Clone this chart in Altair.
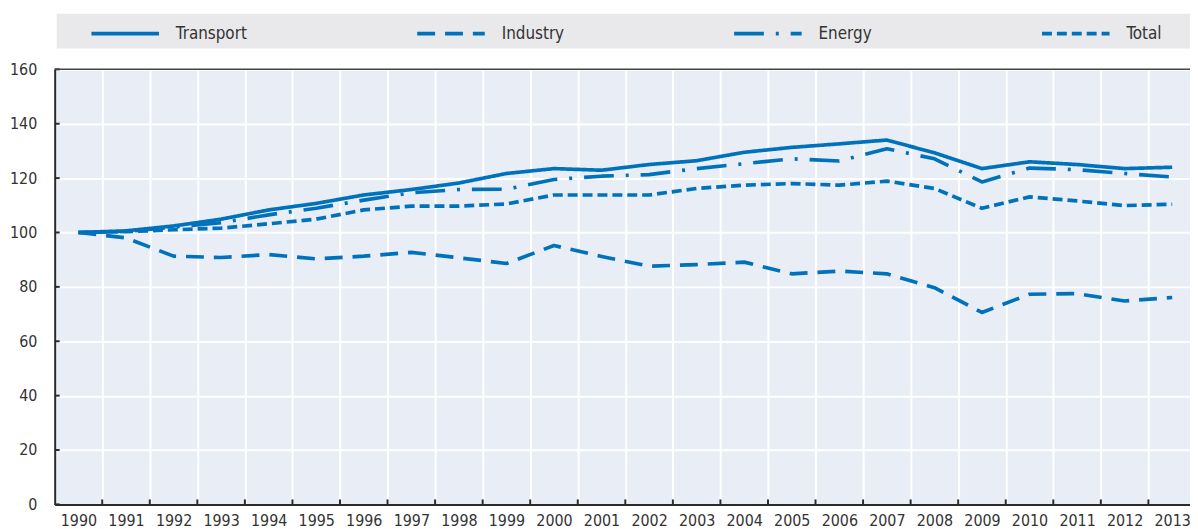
import altair as alt
import pandas as pd

years = [str(y) for y in range(1990, 2014)]
series_names = ["Transport", "Industry", "Energy", "Total"]
transport = [100, 100.6, 102.4, 104.9, 108.3, 110.7, 113.8, 115.8, 118.2, 121.7, 123.5, 122.9,
             125.0, 126.4, 129.5, 131.3, 132.6, 134.0, 129.3, 123.5, 126.0, 125.0, 123.5, 124.0]
industry = [100, 98.0, 91.3, 90.8, 91.9, 90.3, 91.3, 92.7, 90.7, 88.6, 95.2, 91.2,
            87.6, 88.2, 89.1, 84.8, 85.8, 84.8, 79.7, 70.6, 77.3, 77.5, 74.8, 76.1]
energy = [100, 100.4, 102.0, 103.6, 106.5, 108.9, 111.9, 114.6, 115.8, 115.9, 119.5, 120.7,
          121.3, 123.5, 125.3, 127.1, 126.3, 130.8, 127.1, 118.6, 123.7, 123.1, 121.7, 120.4]
total = [100, 100.3, 101.0, 101.6, 103.2, 104.9, 108.3, 109.7, 109.7, 110.5, 113.8, 113.8,
         113.8, 116.2, 117.4, 118.0, 117.4, 118.9, 116.2, 108.9, 113.1, 111.6, 109.9, 110.4]
y_ticks = [0, 20, 40, 60, 80, 100, 120, 140, 160]

BLUE = "#0072BC"
AXIS = "#2b2b2b"
TEXT = "#333333"
FONT = "DejaVu Sans Condensed, Liberation Sans Narrow, Arial Narrow, sans-serif"
W, H = 1143, 438
SYM = 68
dashes = [[1, 0], [18, 10], [30, 12, 3, 12], [10, 5]]

rows = []
for name, vals in zip(series_names, [transport, industry, energy, total]):
    for yr, v in zip(years, vals):
        rows.append({"year": yr, "series": name, "value": v})
df = pd.DataFrame(rows)

xscale = alt.Scale(type="band", domain=years, range=[0, 1149], paddingInner=0, paddingOuter=0)
yscale = alt.Scale(domain=[0, 160])

box = alt.Chart(pd.DataFrame({"k": [0]})).mark_rect(color="#E9E9EB").encode(
    x=alt.value(2), x2=alt.value(W + 10), y=alt.value(-56), y2=alt.value(-21)
)

lines = alt.Chart(df).mark_line(strokeWidth=3.7, color=BLUE, strokeJoin="round").encode(
    x=alt.X("year:O", scale=xscale, bandPosition=0.5, sort=years,
            axis=alt.Axis(title=None, labelAngle=0, tickBand="extent", ticks=False, tickSize=0,
                          labelPadding=8, labelFont=FONT, labelFontSize=16, labelColor=TEXT,
                          domainColor=AXIS, domainWidth=2, grid=True, gridColor="white",
                          gridWidth=2)),
    y=alt.Y("value:Q", scale=yscale,
            axis=alt.Axis(title=None, values=y_ticks, ticks=False, tickSize=0, labelPadding=18,
                          labelFont=FONT, labelFontSize=16, labelColor=TEXT,
                          domainColor=AXIS, domainWidth=2, grid=True, gridColor="white",
                          gridWidth=2)),
    strokeDash=alt.StrokeDash("series:N",
                              scale=alt.Scale(domain=series_names, range=dashes),
                              sort=series_names,
                              legend=alt.Legend(title=None, orient="none", legendX=35,
                                                legendY=-38 - SYM / 2,
                                                direction="horizontal", columns=4,
                                                columnPadding=163, symbolType="stroke",
                                                symbolSize=SYM * SYM, symbolStrokeWidth=3.7,
                                                symbolStrokeColor=BLUE, labelFont=FONT,
                                                labelFontSize=17, labelColor=TEXT,
                                                labelOffset=15, padding=0)),
    detail="series:N",
)

xt = alt.Chart(pd.DataFrame({"year": years[1:]})).mark_rule(color=AXIS, strokeWidth=2).encode(
    x=alt.X("year:O", bandPosition=0), y=alt.value(H), y2=alt.value(H - 5)
)
yt = alt.Chart(pd.DataFrame({"v": y_ticks})).mark_rule(color=AXIS, strokeWidth=2).encode(
    y=alt.Y("v:Q"), x=alt.value(0), x2=alt.value(5)
)
top = alt.Chart(pd.DataFrame({"v": [160]})).mark_rule(color="#444444", strokeWidth=1.5).encode(
    y=alt.Y("v:Q"), x=alt.value(0), x2=alt.value(W)
)

chart = alt.layer(box, lines, xt, yt, top).properties(
    width=W, height=H,
    autosize=alt.AutoSizeParams(type="none"),
    padding={"left": 47, "top": 60, "right": 0, "bottom": 23},
    background="white",
).configure_view(fill="#E9EDF6", strokeWidth=0)

chart.save("out.html", embed_options={"renderer": "svg", "actions": False})
